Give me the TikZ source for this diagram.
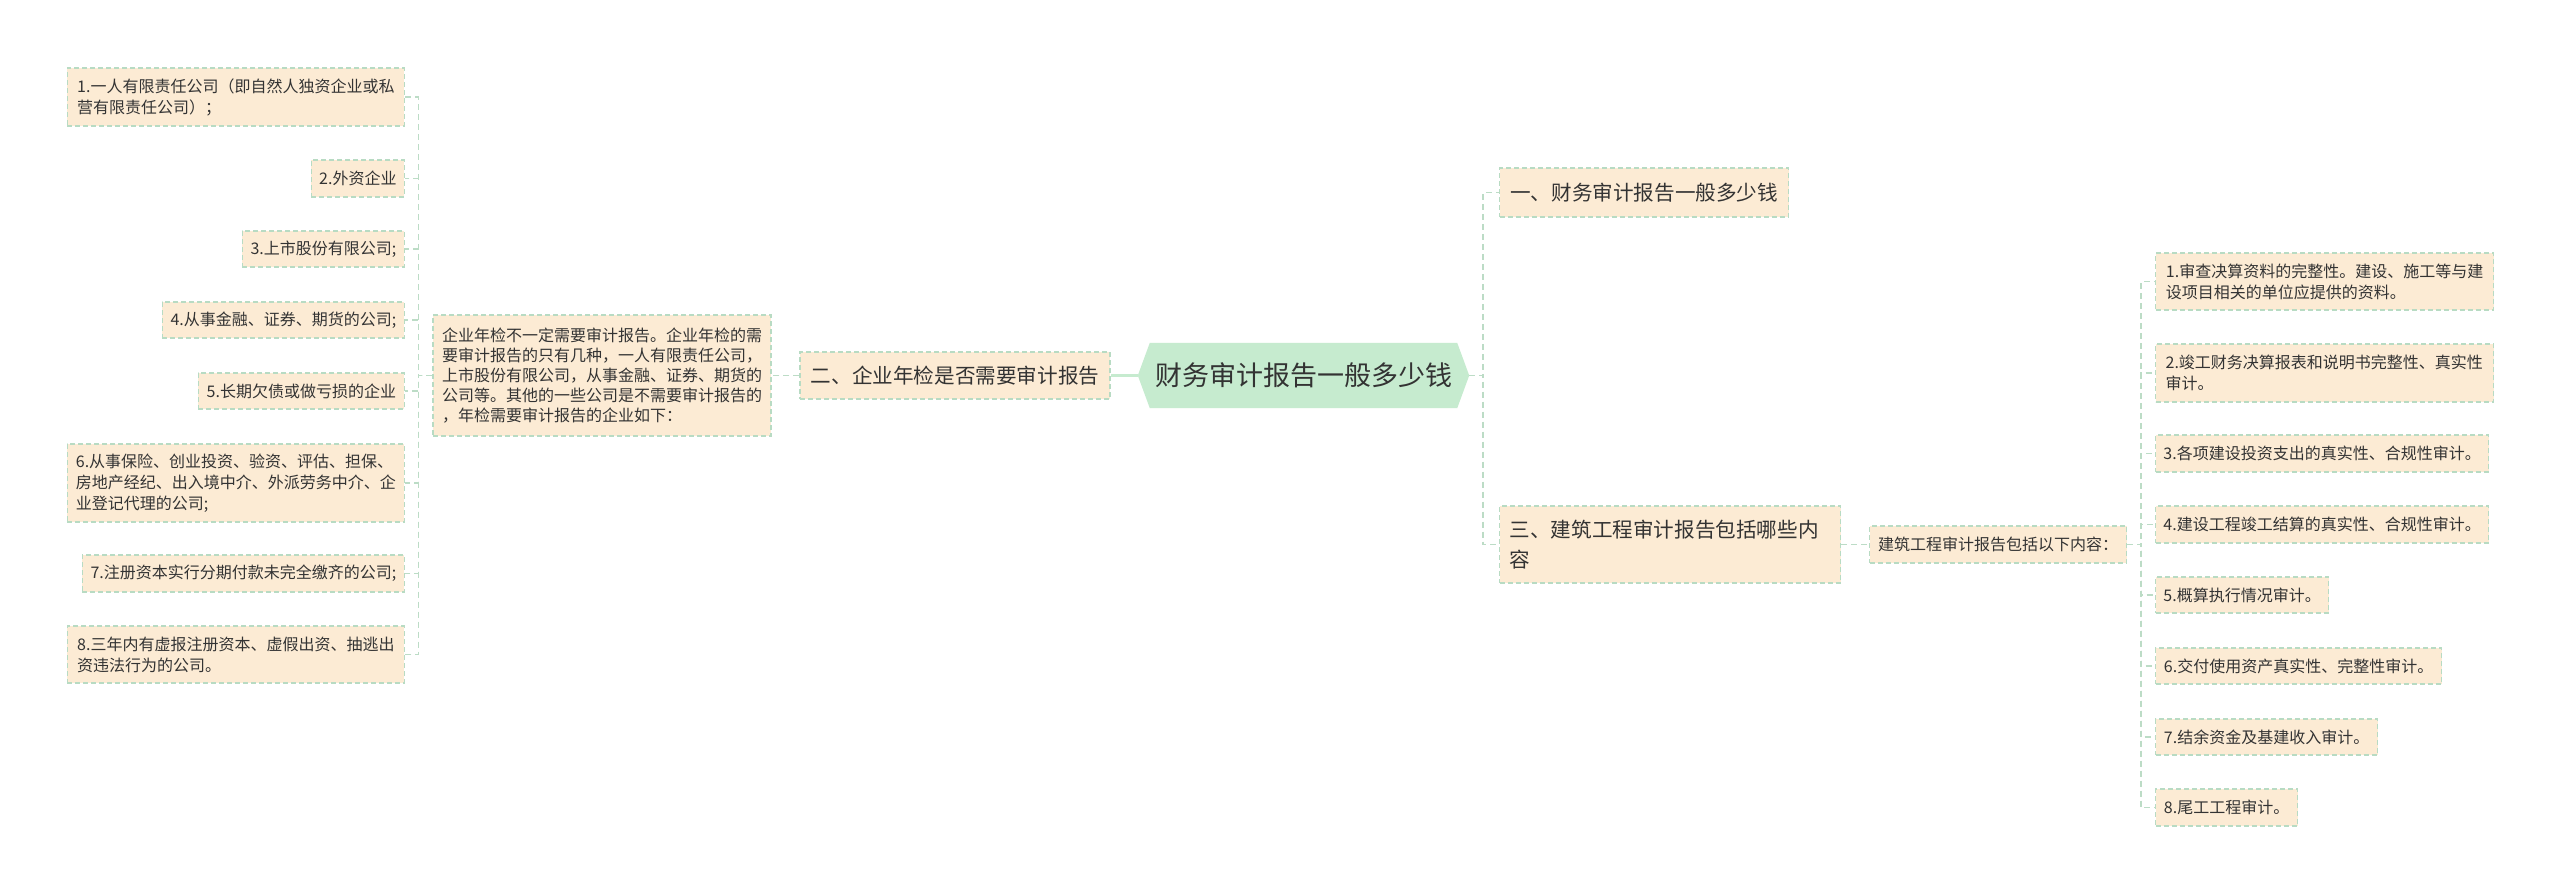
\documentclass[tikz,border=0pt]{standalone}
\usepackage{fontspec}
\setmainfont{Noto Sans CJK SC}
\usetikzlibrary{backgrounds}
\definecolor{leaffill}{HTML}{FCEBD4}
\definecolor{leafline}{HTML}{B8DBC3}
\definecolor{connc}{HTML}{BCDCC6}
\definecolor{rootfill}{HTML}{C6EBCF}
\definecolor{txt}{HTML}{333333}
\begin{document}
\begin{tikzpicture}[x=1pt,y=-1pt,
  box/.style={draw=leafline, fill=leaffill, dash pattern=on 5pt off 3pt, line width=1.2pt,
    inner xsep=4pt, inner ysep=2pt, align=left, text=txt, font=\fontsize{16}{21}\selectfont},
  dbox/.style={box, font=\fontsize{16}{20}\selectfont},
  big/.style={box, font=\fontsize{20.6}{30}\selectfont},
  conn/.style={draw=connc, line width=1.5pt, dash pattern=on 6pt off 4pt},
  rootline/.style={draw=rootfill, line width=3pt},
]
\begin{scope}[on background layer]
\fill[white] (0,0) rectangle (2560,895);
\end{scope}
\useasboundingbox (0,0) rectangle (2560,895);

% root
\node[font=\fontsize{27}{32}\selectfont, text=txt, minimum width=331pt, minimum height=65pt, inner sep=0pt] (root) at (1303.5,375.5) {财务审计报告一般多少钱};
\begin{scope}[on background layer]
\fill[rootfill] (root.west) -- ([xshift=12pt]root.north west) -- ([xshift=-12pt]root.north east) -- (root.east) -- ([xshift=-12pt]root.south east) -- ([xshift=12pt]root.south west) -- cycle;
\end{scope}

% main branches
\node[big, minimum width=310pt, minimum height=47pt, align=center] (B2) at (955,375.5) {二、企业年检是否需要审计报告};
\node[big, minimum width=289pt, minimum height=49pt, anchor=west, align=center] (B1) at (1499,192.5) {一、财务审计报告一般多少钱};
\node[big, minimum width=341pt, minimum height=77pt, anchor=west, text width=321pt] (B3) at (1499,544.5) {三、建筑工程审计报告包括哪些内\\容};

% description
\node[dbox, minimum width=338pt, minimum height=121pt] (desc) at (602,375.5) {企业年检不一定需要审计报告。企业年检的需\\要审计报告的只有几种，一人有限责任公司，\\上市股份有限公司，从事金融、证券、期货的\\公司等。其他的一些公司是不需要审计报告的\\，年检需要审计报告的企业如下：};

% left leaves
\node[box, anchor=east, minimum width=337pt, minimum height=58pt] (L1) at (405,97) {1.一人有限责任公司（即自然人独资企业或私\\营有限责任公司）；};
\node[box, anchor=east, minimum width=93pt, minimum height=37pt] (L2) at (405,178.5) {2.外资企业};
\node[box, anchor=east, minimum width=162pt, minimum height=36pt] (L3) at (405,249) {3.上市股份有限公司;};
\node[box, anchor=east, minimum width=242pt, minimum height=36pt] (L4) at (405,320) {4.从事金融、证券、期货的公司;};
\node[box, anchor=east, minimum width=206pt, minimum height=36pt] (L5) at (405,391) {5.长期欠债或做亏损的企业};
\node[box, anchor=east, minimum width=337pt, minimum height=78pt] (L6) at (405,483) {6.从事保险、创业投资、验资、评估、担保、\\房地产经纪、出入境中介、外派劳务中介、企\\业登记代理的公司;};
\node[box, anchor=east, minimum width=322pt, minimum height=37pt] (L7) at (405,573.5) {7.注册资本实行分期付款未完全缴齐的公司;};
\node[box, anchor=east, minimum width=337pt, minimum height=57pt] (L8) at (405,654.5) {8.三年内有虚报注册资本、虚假出资、抽逃出\\资违法行为的公司。};

% sub node
\node[box, anchor=west, minimum width=257pt, minimum height=37pt] (sub) at (1869,544.5) {建筑工程审计报告包括以下内容：};

% right leaves
\node[box, anchor=west, minimum width=338pt, minimum height=57pt] (R1) at (2155,281.5) {1.审查决算资料的完整性。建设、施工等与建\\设项目相关的单位应提供的资料。};
\node[box, anchor=west, minimum width=338pt, minimum height=58pt, text width=318pt] (R2) at (2155,373) {2.竣工财务决算报表和说明书完整性、真实性\\审计。};
\node[box, anchor=west, minimum width=333pt, minimum height=37pt] (R3) at (2155,453.5) {3.各项建设投资支出的真实性、合规性审计。};
\node[box, anchor=west, minimum width=333pt, minimum height=37pt] (R4) at (2155,524.5) {4.建设工程竣工结算的真实性、合规性审计。};
\node[box, anchor=west, minimum width=173pt, minimum height=36pt] (R5) at (2155,595) {5.概算执行情况审计。};
\node[box, anchor=west, minimum width=286pt, minimum height=36pt] (R6) at (2155,666) {6.交付使用资产真实性、完整性审计。};
\node[box, anchor=west, minimum width=222pt, minimum height=36pt] (R7) at (2155,737) {7.结余资金及基建收入审计。};
\node[box, anchor=west, minimum width=142pt, minimum height=37pt] (R8) at (2155,807.5) {8.尾工工程审计。};

% connectors
\draw[rootline] (root.west) -- (B2.east);
\draw[conn] (B2.west) -- (desc.east);
\foreach \n in {L1,L2,L3,L4,L5,L6,L7,L8}
  \draw[conn] (desc.west) -- ++(-14,0) |- (\n.east);
\foreach \n in {B1,B3}
  \draw[conn] (root.east) -- ++(14,0) |- (\n.west);
\draw[conn] (B3.east) -- (sub.west);
\foreach \n in {R1,R2,R3,R4,R5,R6,R7,R8}
  \draw[conn] (sub.east) -- ++(14,0) |- (\n.west);
\end{tikzpicture}
\end{document}
